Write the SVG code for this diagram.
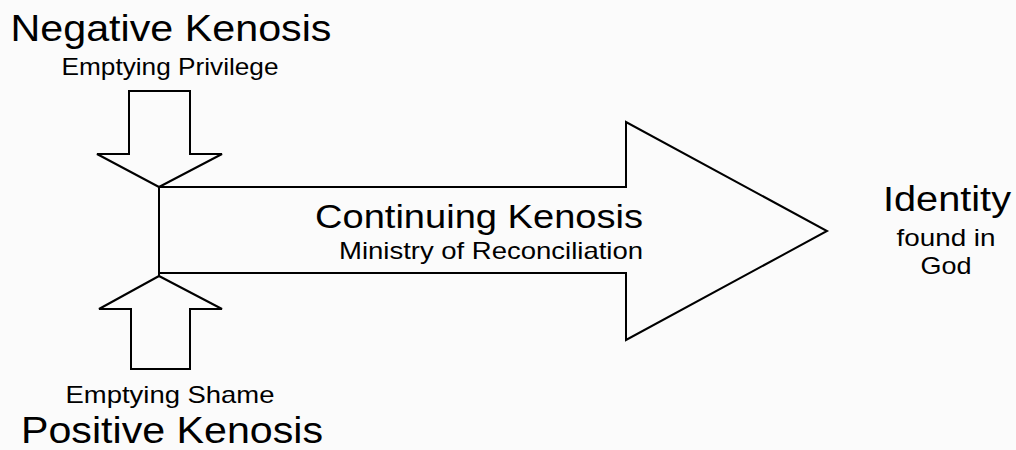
<svg xmlns="http://www.w3.org/2000/svg" width="1016" height="450" viewBox="0 0 1016 450">
<style>
.shape{fill:#fbfbfb;stroke:#000;stroke-width:2;stroke-linejoin:miter}
.t{font-family:"Liberation Sans",Arial,sans-serif;fill:#000;text-anchor:middle}
.big{font-size:36px}
.small{font-size:24px}
</style>
<rect x="0" y="0" width="1016" height="450" fill="#fbfbfb"/>
<g id="negative-kenosis">
<polygon class="shape" points="129,91 190,91 190,154 222,154 159,187 97,154 129,154"/>
<text class="t big" x="171" y="41" textLength="321" lengthAdjust="spacingAndGlyphs">Negative Kenosis</text>
<text class="t small" x="170" y="75" textLength="217" lengthAdjust="spacingAndGlyphs">Emptying Privilege</text>
</g>
<g id="positive-kenosis">
<polygon class="shape" points="159,276 222,309 190,309 190,369 131,369 131,309 99,309"/>
<text class="t small" x="170" y="403" textLength="209" lengthAdjust="spacingAndGlyphs">Emptying Shame</text>
<text class="t big" x="172" y="443" textLength="302" lengthAdjust="spacingAndGlyphs">Positive Kenosis</text>
</g>
<g id="continuing-kenosis">
<polygon class="shape" points="159,187 626,187 626,122 827,231 626,340 626,273 159,273"/>
<text class="t" style="font-size:34px" x="479" y="228" textLength="328" lengthAdjust="spacingAndGlyphs">Continuing Kenosis</text>
<text class="t small" x="491" y="259" textLength="304" lengthAdjust="spacingAndGlyphs">Ministry of Reconciliation</text>
</g>
<g id="identity">
<text class="t" style="font-size:35px" x="947" y="211" textLength="128" lengthAdjust="spacingAndGlyphs">Identity</text>
<text class="t small" x="946" y="246" textLength="99" lengthAdjust="spacingAndGlyphs">found in</text>
<text class="t small" x="946" y="274" textLength="51" lengthAdjust="spacingAndGlyphs">God</text>
</g>
<g id="connectors">
<line x1="159" y1="187" x2="159" y2="276" stroke="#000" stroke-width="2"/>
</g>
</svg>
